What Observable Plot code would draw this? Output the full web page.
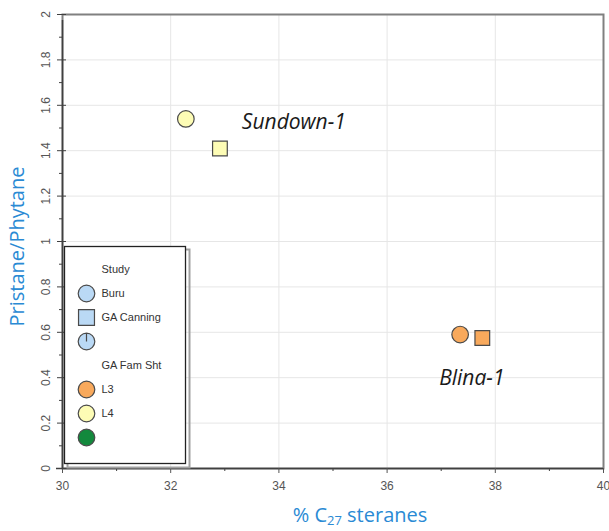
<!DOCTYPE html>
<html>
<head>
<meta charset="utf-8">
<script src="https://cdn.jsdelivr.net/npm/d3@7"></script>
<script src="https://cdn.jsdelivr.net/npm/@observablehq/plot@0.6"></script>
<style>
  html, body { margin: 0; padding: 0; background: #fff; }
  #chart { position: relative; width: 609px; height: 531px; overflow: hidden; }
  #chart > svg { position: absolute; }
  #xtitle {
    position: absolute; left: 210px; width: 300px; top: 504px;
    text-align: center; font-family: "Open Sans", sans-serif; font-size: 20px;
    color: #2a8ad4; line-height: 22px;
  }
  #xtitle sub { font-size: 13px; vertical-align: -3px; line-height: 0; }
</style>
</head>
<body>
<div id="chart"><div id="xtitle">% C<sub>27</sub> steranes</div></div>
<script>
// Samples: % C27 steranes vs pristane/phytane ratio
const wellName = ["Sundown-1", "Sundown-1", "Blina-1", "Blina-1"];
const c27Steranes = [32.28, 32.91, 37.35, 37.76];
const pristanePhytane = [1.54, 1.41, 0.59, 0.575];
const studyName = ["Buru", "GA Canning", "Buru", "GA Canning"];
const familyName = ["L4", "L4", "L3", "L3"];

// Axis ticks
const xTicks = [30, 32, 34, 36, 38, 40];
const xMinorTicks = [31, 33, 35, 37, 39];
const yTicks = [0, 0.2, 0.4, 0.6, 0.8, 1, 1.2, 1.4, 1.6, 1.8, 2];
const yMinorTicks = [0.1, 0.3, 0.5, 0.7, 0.9, 1.1, 1.3, 1.5, 1.7, 1.9];
const yGrid = [0.2, 0.4, 0.6, 0.8, 1, 1.2, 1.4, 1.6, 1.8];
const xGrid = [32, 34, 36, 38];

// Legend entries
const legendText = ["Study", "Buru", "GA Canning", "", "GA Fam Sht", "L3", "L4", ""];
const legendShape = [null, "circle", "square", "pie", null, "circle", "circle", "circle"];
const legendColor = [null, "Study", "Study", "Study", null, "L3", "L4", "Other"];

// Family colours
const familyDomain = ["Study", "L3", "L4", "Other"];
const familyColors = ["#bad9f5", "#f8a95c", "#fdfcb5", "#13893d"];

// Marker shapes (square side close to the circle diameter)
const radiusOf = size => Math.sqrt(size / Math.PI);
const squareSymbol = {draw(ctx, size) { const r = radiusOf(size) * 0.96; ctx.rect(-r, -r, 2 * r, 2 * r); }};
const circleSymbol = {draw(ctx, size) { const r = radiusOf(size); ctx.moveTo(r, 0); ctx.arc(0, 0, r, 0, 2 * Math.PI); }};
const pieSymbol = {draw(ctx, size) {
  const r = radiusOf(size);
  ctx.moveTo(r, 0); ctx.arc(0, 0, r, 0, 2 * Math.PI);
  ctx.moveTo(0, 0); ctx.lineTo(0, -r);
}};
const shapeDomain = ["circle", "square", "pie"];
const shapeRange = [circleSymbol, squareSymbol, pieSymbol];
const studyShape = {"Buru": "circle", "GA Canning": "square"};

const points = c27Steranes.map((x, i) => ({
  x, y: pristanePhytane[i], shape: studyShape[studyName[i]], family: familyName[i], well: wellName[i]
}));

const blue = "#2a8ad4";
const axisColor = "#404040";
const labelColor = "#555555";

const main = Plot.plot({
  width: 609,
  height: 531,
  marginLeft: 62,
  marginRight: 6,
  marginTop: 14,
  marginBottom: 63,
  style: {fontFamily: "'Liberation Sans', Arial, sans-serif", background: "white", overflow: "visible"},
  x: {domain: [30, 40]},
  y: {domain: [0, 2]},
  symbol: {domain: shapeDomain, range: shapeRange},
  color: {domain: familyDomain, range: familyColors},
  marks: [
    Plot.gridX(xGrid, {stroke: "#e6e6e6", strokeOpacity: 1}),
    Plot.gridY(yGrid, {stroke: "#e6e6e6", strokeOpacity: 1}),
    Plot.frame({stroke: "#808080", strokeWidth: 2}),
    Plot.ruleX([30], {stroke: axisColor, strokeWidth: 1.5, y1: 0, y2: 2, insetBottom: -6}),
    Plot.ruleY([0], {stroke: axisColor, strokeWidth: 1.5, insetLeft: -6}),
    // x axis: major ticks with labels, minor ticks without
    Plot.axisX(xTicks, {tickSize: 5, tickPadding: 8, fontSize: 12, color: labelColor, label: null}),
    Plot.axisX(xMinorTicks, {tickSize: 3, tickFormat: () => "", color: axisColor, label: null}),
    // y axis: major ticks crossing the axis line, minor ticks outside
    Plot.axisY(yTicks, {tickSize: 9, dx: 4, tickFormat: () => "", color: axisColor, label: null}),
    Plot.axisY(yMinorTicks, {tickSize: 3, tickFormat: () => "", color: axisColor, label: null}),
    Plot.text(yTicks, {
      y: d => d, text: d => String(d), frameAnchor: "left", dx: -16, rotate: -90,
      textAnchor: "middle", lineAnchor: "middle", fontSize: 12, fill: labelColor
    }),
    Plot.text(["Pristane/Phytane"], {
      frameAnchor: "left", dx: -45, dy: 5, rotate: -90, textAnchor: "middle", lineAnchor: "middle",
      fontSize: 20, fill: blue, fontFamily: "'Open Sans', sans-serif"
    }),
    Plot.dot(points, {
      x: "x", y: "y", symbol: "shape", fill: "family", r: 8.3,
      stroke: "#4a4a4a", strokeWidth: 1.2
    }),
    Plot.text(points, Plot.selectFirst({
      filter: d => d.well === "Sundown-1", x: "x", y: "y", text: "well",
      dx: 56, dy: 3, textAnchor: "start", fontSize: 21, fontStyle: "italic",
      fill: "#1a1a1a", fontFamily: "'Open Sans', sans-serif"
    })),
    Plot.text(points, Plot.selectFirst({
      filter: d => d.well === "Blina-1", x: "x", y: "y", text: "well",
      dx: -21, dy: 44, textAnchor: "start", fontSize: 21, fontStyle: "italic",
      fill: "#1a1a1a", fontFamily: "'Open Sans', sans-serif"
    }))
  ]
});
main.style.left = "0px";
main.style.top = "0px";

// Legend panel drawn inside the plotting area
const legendRows = legendText.map((t, i) => ({i, text: t, shape: legendShape[i], color: legendColor[i]}));
const legend = Plot.plot({
  width: 126,
  height: 222,
  margin: 0,
  style: {fontFamily: "'Liberation Sans', Arial, sans-serif", background: "transparent", overflow: "visible"},
  x: {axis: null, domain: [0, 1]},
  y: {axis: null, type: "point", padding: 0, domain: d3.range(legendRows.length), range: [22, 193]},
  symbol: {domain: shapeDomain, range: shapeRange},
  color: {domain: familyDomain, range: familyColors},
  marks: [
    Plot.frame({stroke: "#a0a0a0", strokeWidth: 2, insetTop: 2, insetLeft: 2, insetRight: 2, insetBottom: 2, dx: 2, dy: 2}),
    Plot.frame({stroke: "#222", strokeWidth: 1.3, fill: "white", insetTop: 1, insetLeft: 1, insetRight: 4, insetBottom: 4}),
    Plot.dot(legendRows.filter(d => d.shape), {
      y: "i", frameAnchor: "left", dx: 23, symbol: "shape", fill: "color", r: 8.3,
      stroke: "#4a4a4a", strokeWidth: 1.2
    }),
    Plot.text(legendRows, {
      y: "i", text: "text", frameAnchor: "left", dx: 38, textAnchor: "start",
      fontSize: 11, fill: "#333"
    })
  ]
});
legend.style.left = "63px";
legend.style.top = "245px";

const chart = document.getElementById("chart");
chart.prepend(main);
chart.appendChild(legend);
</script>
</body>
</html>
